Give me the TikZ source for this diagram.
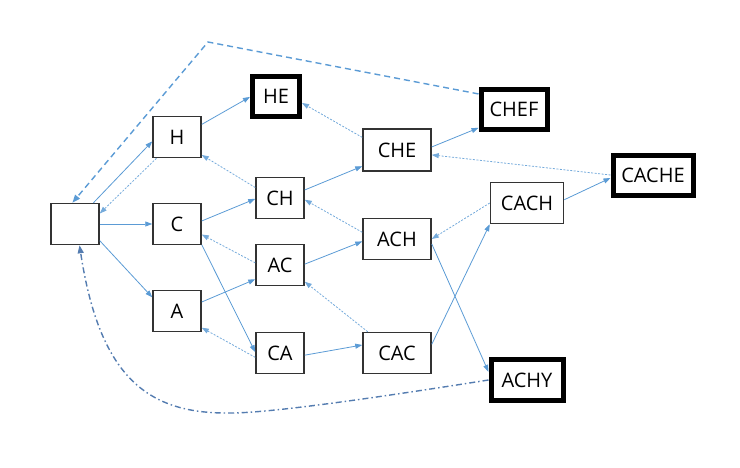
\documentclass[tikz,border=0pt]{standalone}
\usepackage{fontspec}
\setmainfont{Open Sans}
\usepackage{tikz}
\usetikzlibrary{positioning, arrows.meta, shapes}
\usepackage{xcolor}
\definecolor{linkblue}{RGB}{91,155,213}
\definecolor{backblue}{RGB}{84,124,176}

\begin{document}
\begin{tikzpicture}[x=1pt, y=-1pt,
  cell/.style={rectangle, draw=black!80, line width=1.5pt, minimum width=48pt, minimum height=41pt, inner sep=0pt, font=\fontsize{20}{24}\selectfont},
  match/.style={cell, draw=black, line width=5pt},
  goto/.style={draw=linkblue, line width=0.8pt, -{Triangle[length=7pt, width=5pt]}},
  fail/.style={goto, draw=linkblue!85, dash pattern=on 2pt off 1.5pt},
  jump/.style={draw=linkblue, line width=1.4pt, dash pattern=on 6pt off 4pt, -{Triangle[length=8pt, width=6pt]}},
  back/.style={draw=backblue, line width=1.4pt, dash pattern=on 6pt off 3pt on 1.5pt off 3pt, -{Triangle[length=8pt, width=6pt]}}]

\useasboundingbox (0,0) rectangle (740,467);

% Root and first level
\node[cell] (root) at (75,224) {};
\node[cell] (H) at (177,137) {H};
\node[cell] (C) at (177,224) {C};
\node[cell] (A) at (177,311) {A};

% Second level
\node[match, minimum width=47pt, minimum height=40pt] (HE) at (276,96) {HE};
\node[cell] (CH) at (280,198) {CH};
\node[cell] (AC) at (280,265) {AC};
\node[cell] (CA) at (280,353) {CA};

% Third level
\node[cell, minimum width=68pt, minimum height=42pt] (CHE) at (397,150) {CHE};
\node[cell, minimum width=68pt] (ACH) at (397,239) {ACH};
\node[cell, minimum width=68pt] (CAC) at (397,353) {CAC};

% Fourth and fifth level
\node[match, minimum width=66pt, minimum height=40pt] (CHEF) at (514,109) {CHEF};
\node[cell, minimum width=73pt] (CACH) at (527,203) {CACH};
\node[match, minimum width=80pt, minimum height=40pt] (CACHE) at (653,175) {CACHE};
\node[match, minimum width=72pt] (ACHY) at (527,380) {ACHY};

\coordinate (top) at (208,42);
\coordinate (low) at (230,413);

% Goto edges (solid)
\draw[goto] (root.49) -- (H.190);
\draw[goto] (root.east) -- (C.west);
\draw[goto] (root.-34) -- (A.151);
\draw[goto] (H.27) -- (HE.182);
\draw[goto] (C.7) -- (CH.182);
\draw[goto] (C.-40) -- (CA.178);
\draw[goto] (A.20) -- (AC.210);
\draw[goto] (CH.18) -- (CHE.205);
\draw[goto] (AC.2) -- (ACH.184);
\draw[goto] (CA.-5) -- (CAC.167);
\draw[goto] (CHE.5) -- (CHEF.208);
\draw[goto] (CAC.14) -- (CACH.south west);
\draw[goto] (ACH.-8) -- (ACHY.168);
\draw[goto] (CACH.5) -- (CACHE.184);

% Failure edges (dotted)
\draw[fail] (H.226) -- (root.23);
\draw[fail] (CH.157) -- (H.-36);
\draw[fail] (AC.175) -- (C.-23);
\draw[fail] (CA.190) -- (A.-34);
\draw[fail] (CHE.160) -- (HE.-15);
\draw[fail] (ACH.169) -- (CH.-4);
\draw[fail] (CAC.144) -- (AC.-34);
\draw[fail] (CACH.west) -- (ACH.east);
\draw[fail] (CACHE.west) -- (CHE.-8);

% Back to root from matches
\draw[jump] (CHEF.157) -- (top) -- (root.97);
\draw[back] (ACHY.west) .. controls (330,405) and (260,413) .. (low) .. controls (150,414) and (100,380) .. (root.-78);

\end{tikzpicture}
\end{document}
